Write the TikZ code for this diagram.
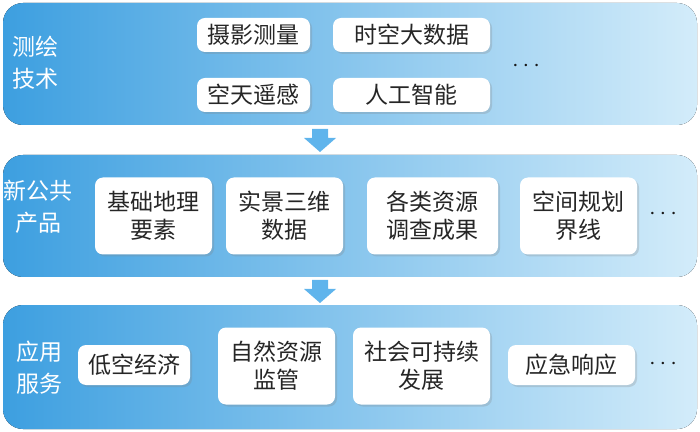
\documentclass[tikz,border=0pt]{standalone}
\usepackage{fontspec}
\setmainfont{Noto Sans CJK SC}
\usetikzlibrary{shadows}
\definecolor{banddark}{HTML}{3D9FE0}
\definecolor{bandlight}{HTML}{D3ECFA}
\definecolor{arrowblue}{HTML}{5FB4EC}
\tikzset{
    band/.style={rounded corners=10pt, left color=banddark, right color=bandlight, draw=none},
    item/.style={fill=white, rounded corners=4pt, drop shadow={opacity=0.25, shadow xshift=1pt, shadow yshift=-1pt},
        align=center, font=\fontsize{11.5}{14}\selectfont, text=black!85, inner sep=0pt},
    head/.style={align=center, text=white, font=\fontsize{11.5}{16}\selectfont},
    more/.style={font=\fontsize{12}{13}\selectfont, text=black!90}
}
\begin{document}
\begin{tikzpicture}[x=0.5pt, y=-0.5pt]
    \useasboundingbox (0,0) rectangle (700,432);
    % bands
    \fill [band] (3,3) rectangle (697,125);
    \fill [band] (3,155) rectangle (697,277);
    \fill [band] (3,305) rectangle (697,429);
    % arrows
    \fill [arrowblue] (312,129) -- (328,129) -- (328,138) -- (336,138) -- (320,152) -- (304,138) -- (312,138) -- cycle;
    \fill [arrowblue] (312,280) -- (328,280) -- (328,289) -- (336,289) -- (320,303) -- (304,289) -- (312,289) -- cycle;
    % first band
    \node [head] (h1) at (35,63) {测绘\\技术};
    \node [item, minimum width=56.5pt, minimum height=17pt] (a1) at (253.5,35) {摄影测量};
    \node [item, minimum width=78.5pt, minimum height=17pt] (a2) at (411.5,35) {时空大数据};
    \node [item, minimum width=56.5pt, minimum height=17pt] (a3) at (253.5,95) {空天遥感};
    \node [item, minimum width=78.5pt, minimum height=17pt] (a4) at (411.5,95) {人工智能};
    \node [more] (m1) at (526,66) {$\cdots$};
    % second band
    \node [head] (h2) at (38,207) {新公共\\产品};
    \node [item, minimum width=58.5pt, minimum height=38.5pt] (b1) at (153.5,216) {基础地理\\要素};
    \node [item, minimum width=58.5pt, minimum height=38.5pt] (b2) at (284.5,216) {实景三维\\数据};
    \node [item, minimum width=65.5pt, minimum height=38.5pt] (b3) at (432.5,216) {各类资源\\调查成果};
    \node [item, minimum width=58.5pt, minimum height=38.5pt] (b4) at (578.5,216) {空间规划\\界线};
    \node [more] (m2) at (663,214) {$\cdots$};
    % third band
    \node [head] (h3) at (40,368) {应用\\服务};
    \node [item, minimum width=56pt, minimum height=20pt] (c1) at (134,365) {低空经济};
    \node [item, minimum width=58.5pt, minimum height=38.5pt] (c2) at (276.5,366) {自然资源\\监管};
    \node [item, minimum width=68.5pt, minimum height=38.5pt] (c3) at (421.5,366) {社会可持续\\发展};
    \node [item, minimum width=63.5pt, minimum height=20pt] (c4) at (571.5,365) {应急响应};
    \node [more] (m3) at (663,364) {$\cdots$};
\end{tikzpicture}
\end{document}
